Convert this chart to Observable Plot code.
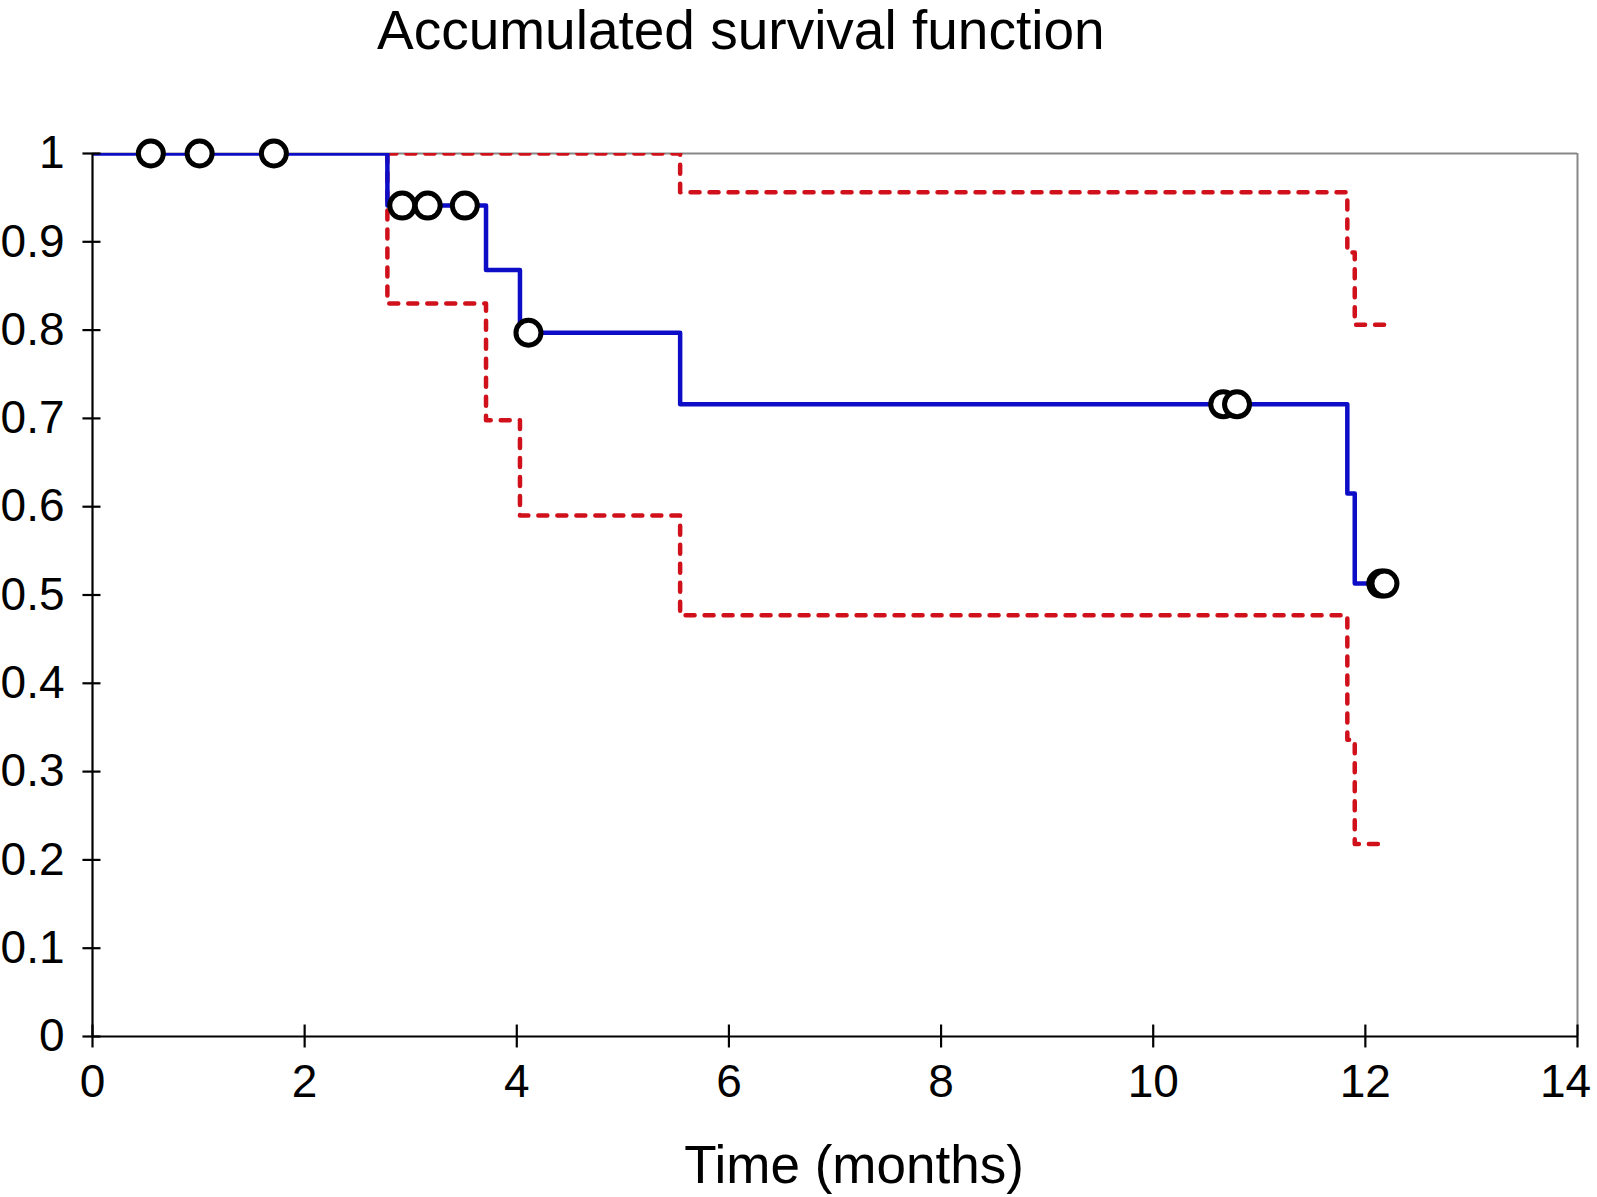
<!DOCTYPE html>
<html>
<head>
<meta charset="utf-8">
<script src="https://cdn.jsdelivr.net/npm/d3@7"></script>
<script src="https://cdn.jsdelivr.net/npm/@observablehq/plot@0.6"></script>
<style>
  body { margin: 0; background: #fff; font-family: "Liberation Sans", Arial, sans-serif; }
  #title { position: relative; height: 62px; width: 1597px; }
  #title span { position: absolute; left: 377px; top: -1px; font-size: 55px; line-height: 62px; color: #000; white-space: nowrap; }
</style>
</head>
<body>
<div id="title"><span>Accumulated survival function</span></div>
<div id="chart"></div>
<script>
// Kaplan-Meier estimate (step points: time, survival)
const kmTime = [0, 2.78, 3.71, 4.03, 5.54, 11.83, 11.90, 12.17];
const kmSurv = [1, 0.941, 0.868, 0.797, 0.716, 0.615, 0.513, 0.513];
// Upper confidence bound
const upTime = [2.78, 5.54, 11.83, 11.90, 12.26];
const upSurv = [1, 0.956, 0.888, 0.806, 0.806];
// Lower confidence bound
const loTime = [2.78, 2.78, 3.71, 4.03, 5.54, 11.83, 11.90, 12.15];
const loSurv = [1, 0.830, 0.698, 0.590, 0.477, 0.336, 0.218, 0.218];
// Censored observations
const censTime = [0.55, 1.01, 1.71, 2.92, 3.16, 3.51, 4.11, 10.66, 10.79, 12.15, 12.18];
const censSurv = [1, 1, 1, 0.941, 0.941, 0.941, 0.797, 0.716, 0.716, 0.513, 0.513];
// Axis ticks and labels
const xTicks = [0, 2, 4, 6, 8, 10, 12, 14];
const yTicks = [0, 0.1, 0.2, 0.3, 0.4, 0.5, 0.6, 0.7, 0.8, 0.9, 1];
const titleText = "Accumulated survival function";
const xLabel = "Time (months)";

const km = kmTime.map((t, i) => ({t, s: kmSurv[i]}));
const up = upTime.map((t, i) => ({t, s: upSurv[i]}));
const lo = loTime.map((t, i) => ({t, s: loSurv[i]}));
const cens = censTime.map((t, i) => ({t, s: censSurv[i]}));

const font = "Liberation Sans, Arial, sans-serif";
const blue = "#0d0dc8";
const red = "#d0101a";
const lastTick = xTicks[xTicks.length - 1];

const chart = Plot.plot({
  width: 1597,
  height: 1135,
  marginLeft: 92,
  marginRight: 20,
  marginTop: 91,
  marginBottom: 161,
  style: {fontFamily: font, background: "#fff", overflow: "visible"},
  x: {type: "linear", domain: [0, 14], label: null},
  y: {type: "linear", domain: [0, 1], label: null},
  marks: [
    // frame (gray top and right)
    Plot.ruleY([1], {stroke: "#888", strokeWidth: 2}),
    Plot.ruleX([14], {stroke: "#888", strokeWidth: 2}),
    // confidence bounds
    Plot.line(lo, {x: "t", y: "s", curve: "step-after", stroke: red, strokeWidth: 4.5,
      strokeDasharray: "9,10", strokeLinecap: "round", strokeLinejoin: "round", clip: true}),
    Plot.line(up, {x: "t", y: "s", curve: "step-after", stroke: red, strokeWidth: 4.5,
      strokeDasharray: "9,10", strokeLinecap: "round", strokeLinejoin: "round", clip: true}),
    // survival curve
    Plot.line(km, {x: "t", y: "s", curve: "step-after", stroke: blue, strokeWidth: 4.5, clip: true}),
    // axes lines
    Plot.ruleX([0], {stroke: "#000", strokeWidth: 2.2}),
    Plot.ruleY([0], {stroke: "#000", strokeWidth: 2.2}),
    // crossing ticks
    Plot.ruleX(xTicks, {x: d => d, y1: -0.013, y2: 0.013, stroke: "#000", strokeWidth: 2.2}),
    Plot.ruleY(yTicks, {y: d => d, x1: -0.09, x2: 0.08, stroke: "#000", strokeWidth: 2.2}),
    Plot.axisX(xTicks.slice(0, -1), {tickSize: 0, tickPadding: 28, fontSize: 46, tickFormat: d => String(d), fill: "#000", label: null}),
    Plot.axisX([lastTick], {tickSize: 0, tickPadding: 28, fontSize: 46, tickFormat: d => String(d), fill: "#000", label: null, dx: -12}),
    Plot.axisY(yTicks, {tickSize: 0, tickPadding: 28, fontSize: 46, tickFormat: d => String(d), fill: "#000", label: null}),
    // censor marks
    Plot.dot(cens, {x: "t", y: "s", r: 12.5, fill: "#fff", stroke: "#000", strokeWidth: 5}),
    // x axis label
    Plot.text([xLabel], {frameAnchor: "bottom", dx: 19, dy: 130, fontSize: 53, fill: "#000", lineAnchor: "middle"})
  ]
});
document.getElementById("chart").appendChild(chart);
</script>
</body>
</html>
